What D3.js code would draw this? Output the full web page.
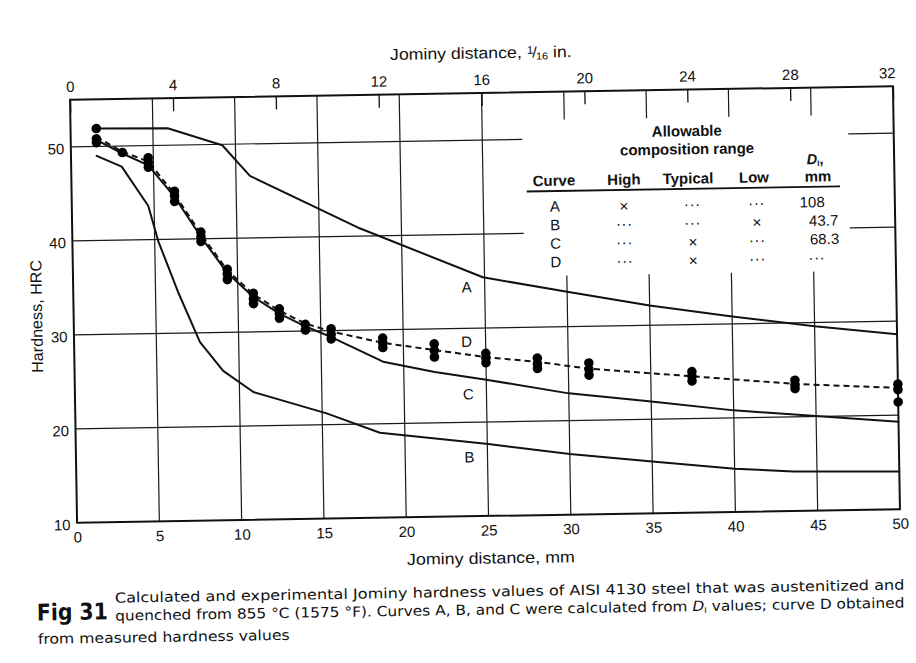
<!DOCTYPE html>
<html>
<head>
<meta charset="utf-8">
<script src="https://cdn.jsdelivr.net/npm/d3@7"></script>
<style>
  html, body { margin: 0; padding: 0; background: #ffffff; }
  svg { display: block; }
  text { font-family: "Liberation Sans", Arial, Helvetica, sans-serif; fill: #111; }
  .narrow { font-family: "Liberation Sans Narrow", "DejaVu Sans Condensed", "Liberation Sans", sans-serif; }
</style>
</head>
<body>
<svg id="fig" width="916" height="663"></svg>
<script>
// ---- Data -------------------------------------------------------------
// Jominy positions of the measured points, in 1/16 in.
const positions16 = [1, 2, 3, 4, 5, 6, 7, 8, 9, 10, 12, 14, 16, 18, 20, 24, 28, 32];
// Measured hardness (HRC) at each position (several specimens)
const measuredHRC = [
  [51.9, 50.8, 50.4],
  [49.3],
  [48.7, 48.2, 47.7],
  [45.1, 44.6, 44.0],
  [40.7, 40.2, 39.7],
  [36.7, 36.2, 35.6],
  [34.1, 33.5, 33.0],
  [32.4, 31.9, 31.4],
  [30.7, 30.1],
  [30.2, 29.6, 29.1],
  [29.1, 28.6, 28.1],
  [28.4, 27.7, 27.0],
  [27.3, 26.8, 26.3],
  [26.7, 26.1, 25.6],
  [26.1, 25.4, 24.8],
  [25.0, 24.5, 24.0],
  [23.9, 23.4, 23.0],
  [23.3, 22.7, 21.4]
];
// Curve D: drawn through the measured values (1/16 in. positions)
const curveD = [51.0, 49.4, 48.3, 44.8, 40.5, 36.6, 34.0, 32.2, 30.8, 29.9, 28.6, 27.75, 26.9, 26.3, 25.5, 24.5, 23.5, 22.9];

// Calculated curves (Jominy distance in mm, hardness in HRC)
const curveA_mm  = [1.56, 5.9, 9.2, 10.85, 17.5, 24.9, 30, 35, 40, 45, 50];
const curveA_hrc = [51.9, 51.8, 49.9, 46.6, 40.8, 35.4, 33.7, 32.1, 30.8, 29.6, 28.6];

const curveB_mm  = [1.56, 3.07, 4.64, 5.22, 6.36, 7.65, 9.03, 10.84, 15.27, 18.49, 25.06, 30, 35, 40, 43.56, 50];
const curveB_hrc = [49.0, 47.8, 43.6, 39.8, 34.4, 29.0, 25.9, 23.6, 21.2, 19.05, 17.65, 16.45, 15.5, 14.6, 14.2, 14.0];

const curveC_mm  = [1.56, 3.13, 4.69, 6.25, 7.81, 9.38, 10.94, 12.5, 14.06, 15.63, 18.75, 21.88, 25, 30, 35, 40, 45, 50];
const curveC_hrc = [50.7, 49.2, 47.9, 44.5, 40.2, 36.3, 33.7, 31.9, 30.5, 29.3, 26.6, 25.4, 24.5, 22.9, 21.9, 20.8, 20.05, 19.3];

// Curve label anchors (mm, HRC)
const curveLabels   = ["A", "D", "C", "B"];
const curveLabelMM  = [23.9, 23.85, 23.9, 23.9];
const curveLabelHRC = [34.4, 28.6, 23.0, 16.3];

// Axis ticks
const mmTicks   = [0, 5, 10, 15, 20, 25, 30, 35, 40, 45, 50];
const inTicks   = [0, 4, 8, 12, 16, 20, 24, 28, 32];
const hrcTicks  = [10, 20, 30, 40, 50];
const mmGrid    = [5, 10, 15, 20, 25, 30, 35, 40, 45];
const hrcGrid   = [20, 30, 40, 50];

// Composition table
const tableCurve   = ["A", "B", "C", "D"];
const tableHigh    = ["×", "···", "···", "···"];
const tableTypical = ["···", "···", "×", "×"];
const tableLow     = ["···", "×", "···", "···"];
const tableDI      = ["108", "43.7", "68.3", "···"];

// ---- Layout -----------------------------------------------------------
const svg = d3.select("#fig");
// the whole sheet sits slightly tilted
const g = svg.append("g").attr("transform", "rotate(-0.95 485 304.5)");

const x   = d3.scaleLinear().domain([0, 50]).range([73.5, 896.5]);
const x16 = d3.scaleLinear().domain([0, 32]).range([73.5, 896.5]);
const y   = d3.scaleLinear().domain([10, 55]).range([516, 93]);

const ink = "#111";

// horizontal factor that makes a text span a given width
function fitWidth(sel, width) {
  const w = sel.node().getBBox().width;
  return w > 0 ? width / w : 1;
}

// ---- Grid -------------------------------------------------------------
const grid = g.append("g").attr("stroke", "#1a1a1a").attr("stroke-width", 1.2);
grid.selectAll(".vg").data(mmGrid).join("line")
  .attr("x1", d => x(d)).attr("x2", d => x(d))
  .attr("y1", y(55)).attr("y2", y(10));
grid.selectAll(".hg").data(hrcGrid).join("line")
  .attr("x1", x(0)).attr("x2", x(50))
  .attr("y1", d => y(d)).attr("y2", d => y(d));

// clear area behind the composition table
g.append("rect").attr("x", 525).attr("y", 121).attr("width", 326).attr("height", 156)
  .attr("fill", "#ffffff");

// ---- Axes -------------------------------------------------------------
const axisFont = 15;

const axBottom = g.append("g").attr("transform", `translate(0,${y(10)})`)
  .call(d3.axisBottom(x).tickValues(mmTicks).tickSize(0).tickPadding(9));
const axLeft = g.append("g").attr("transform", `translate(${x(0)},0)`)
  .call(d3.axisLeft(y).tickValues(hrcTicks).tickSize(0).tickPadding(6.5));
const axTop = g.append("g").attr("transform", `translate(0,${y(55)})`)
  .call(d3.axisTop(x16).tickValues(inTicks).tickSizeInner(-13).tickSizeOuter(0).tickPadding(8));

[axBottom, axLeft, axTop].forEach(a => {
  a.select(".domain").remove();
  a.selectAll("text").attr("font-size", axisFont)
    .attr("font-family", "'Liberation Sans', Arial, sans-serif").attr("fill", ink);
  a.selectAll("line").attr("stroke", ink).attr("stroke-width", 1.3);
});
axLeft.selectAll("text").attr("dy", "0.45em");
axTop.selectAll(".tick").filter(d => d === 32).select("text").attr("dx", -6);

// frame
g.append("rect").attr("x", x(0)).attr("y", y(55))
  .attr("width", x(50) - x(0)).attr("height", y(10) - y(55))
  .attr("fill", "none").attr("stroke", ink).attr("stroke-width", 2);

// axis titles
const tTop = g.append("text").attr("font-size", 16).attr("text-anchor", "middle");
tTop.append("tspan").text("Jominy distance, ");
tTop.append("tspan").attr("font-size", 11).attr("dy", -4).text("1");
tTop.append("tspan").attr("font-size", 15).attr("dy", 4).attr("dx", -1).text("/");
tTop.append("tspan").attr("font-size", 10).attr("dy", 2).attr("dx", -1).text("16");
tTop.append("tspan").attr("font-size", 16).attr("dy", -2).text(" in.");
tTop.attr("transform", `translate(485,58.4) scale(${fitWidth(tTop, 182)},1)`);

const tBot = g.append("text").attr("font-size", 16).attr("text-anchor", "middle")
  .text("Jominy distance, mm");
tBot.attr("transform", `translate(486.7,563.6) scale(${fitWidth(tBot, 168)},1)`);

const tLeft = g.append("text").attr("font-size", 16).attr("text-anchor", "middle")
  .text("Hardness, HRC");
tLeft.attr("transform", `translate(42,309) rotate(-90) scale(${fitWidth(tLeft, 113)},1)`);

// ---- Curves -----------------------------------------------------------
const lineMM = d3.line().x(d => x(d[0])).y(d => y(d[1]));
const line16 = d3.line().x(d => x16(d[0])).y(d => y(d[1]));

const curves = g.append("g").attr("fill", "none").attr("stroke", ink)
  .attr("stroke-width", 2).attr("stroke-linejoin", "round").attr("stroke-linecap", "round");

[[curveA_mm, curveA_hrc], [curveB_mm, curveB_hrc], [curveC_mm, curveC_hrc]].forEach(([xs, ys]) => {
  curves.append("path").attr("d", lineMM(d3.zip(xs, ys)));
});

g.append("path")
  .attr("d", line16(d3.zip(positions16, curveD)))
  .attr("fill", "none").attr("stroke", ink).attr("stroke-width", 2)
  .attr("stroke-dasharray", "6,4");

// measured points
const pts = positions16.flatMap((p, i) => measuredHRC[i].map(v => [p, v]));
g.append("g").selectAll("circle").data(pts).join("circle")
  .attr("cx", d => x16(d[0])).attr("cy", d => y(d[1])).attr("r", 4.8)
  .attr("fill", "#000");

// curve labels
g.append("g").selectAll("text").data(curveLabels).join("text")
  .attr("x", (d, i) => x(curveLabelMM[i])).attr("y", (d, i) => y(curveLabelHRC[i]))
  .attr("dy", "0.36em").attr("text-anchor", "middle").attr("font-size", 15)
  .text(d => d);

// ---- Composition table ------------------------------------------------
const tbl = g.append("g");
const boldSize = 15;
tbl.append("text").attr("x", 689.6).attr("y", 139.5).attr("text-anchor", "middle")
  .attr("font-size", boldSize).attr("font-weight", "bold").text("Allowable");
tbl.append("text").attr("x", 689.6).attr("y", 157.7).attr("text-anchor", "middle")
  .attr("font-size", boldSize).attr("font-weight", "bold").text("composition range");

const di = tbl.append("text").attr("x", 817.4).attr("y", 169.5).attr("text-anchor", "middle")
  .attr("font-size", 14.5).attr("font-weight", "bold");
di.append("tspan").attr("font-style", "italic").text("D");
di.append("tspan").attr("font-size", 8).attr("dy", 2).text("I");
di.append("tspan").attr("dy", -2).text(",");

const headers = ["Curve", "High", "Typical", "Low", "mm"];
const headerX = [556.0, 626.0, 690.0, 756.0, 820.0];
tbl.selectAll(".hdr").data(headers).join("text")
  .attr("x", (d, i) => headerX[i]).attr("y", 187).attr("text-anchor", "middle")
  .attr("font-size", boldSize).attr("font-weight", "bold").text(d => d);

tbl.append("line").attr("x1", 528.6).attr("x2", 842).attr("y1", 192.2).attr("y2", 192.2)
  .attr("stroke", ink).attr("stroke-width", 1.8);

const rowY = i => 212.8 + 18.5 * i;
const colX = [556.6, 625.6, 694.0, 758.3];
const diX = [813.8, 824.9, 825.6, 817.6];

function cell(sel, txt, cx, by) {
  const isX = txt === "×";
  sel.append("text").attr("x", cx).attr("y", by + (isX ? 1 : 0))
    .attr("text-anchor", "middle")
    .attr("font-family", isX ? "'DejaVu Sans', sans-serif" : null)
    .attr("font-size", isX ? 15.5 : 15)
    .attr("letter-spacing", txt === "···" ? 0.6 : 0)
    .text(txt);
}
tableCurve.forEach((c, i) => {
  cell(tbl, c, colX[0], rowY(i));
  cell(tbl, tableHigh[i], colX[1], rowY(i));
  cell(tbl, tableTypical[i], colX[2], rowY(i));
  cell(tbl, tableLow[i], colX[3], rowY(i));
  cell(tbl, tableDI[i], diX[i], rowY(i));
});

// ---- Caption ----------------------------------------------------------
const cap = g.append("g");

const fig = cap.append("text").attr("class", "narrow").attr("font-size", 23)
  .attr("font-weight", "bold").text("Fig 31");
fig.attr("transform", `translate(31.8,613) scale(${fitWidth(fig, 71)},1)`);

const capSize = 14;
const l1 = cap.append("text").attr("class", "narrow").attr("font-size", capSize)
  .text("Calculated and experimental Jominy hardness values of AISI 4130 steel that was austenitized and");
l1.attr("transform", `translate(110,596.5) scale(${fitWidth(l1, 790)},1)`);

const l2 = cap.append("text").attr("class", "narrow").attr("font-size", capSize);
l2.append("tspan").text("quenched from 855 °C (1575 °F). Curves A, B, and C were calculated from ");
l2.append("tspan").attr("font-style", "italic").text("D");
l2.append("tspan").attr("font-size", 8).attr("dy", 2).text("I");
l2.append("tspan").attr("dy", -2).text(" values; curve D obtained");
l2.attr("transform", `translate(110,614.5) scale(${fitWidth(l2, 790)},1)`);

const l3 = cap.append("text").attr("class", "narrow").attr("font-size", capSize)
  .text("from measured hardness values");
l3.attr("transform", `translate(32.4,636.5) scale(${fitWidth(l3, 252)},1)`);
</script>
</body>
</html>
